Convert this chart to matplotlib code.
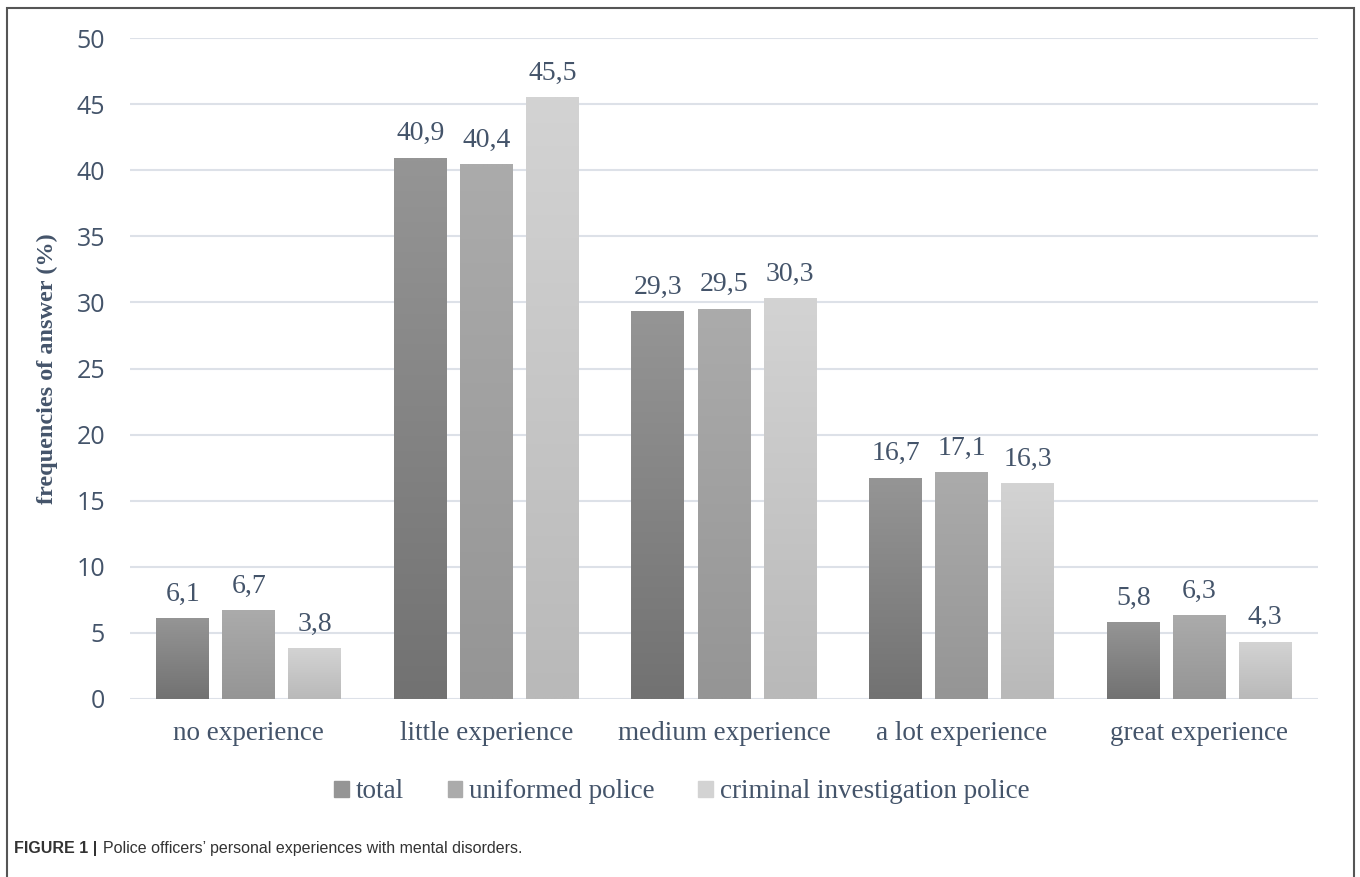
import matplotlib.pyplot as plt
import matplotlib.patches as mpatches
import numpy as np

categories = ['no experience', 'little experience', 'medium experience',
              'a lot experience', 'great experience']
series = ['total', 'uniformed police', 'criminal investigation police']
total = [6.1, 40.9, 29.3, 16.7, 5.8]
uniformed = [6.7, 40.4, 29.5, 17.1, 6.3]
criminal = [3.8, 45.5, 30.3, 16.3, 4.3]
values = [total, uniformed, criminal]

# (top colour, bottom colour) for each series gradient
grads = [('#959595', '#727272'), ('#ababab', '#959595'), ('#d3d3d3', '#b9b9b9')]
txt = '#44546a'

fig = plt.figure(figsize=(13.6, 8.77), dpi=100)
ax = fig.add_axes([130/1360, 1 - 699/877, 1188/1360, 661/877])

x = np.arange(len(categories))
w = 0.223
step = 0.278

for i, (vals, (c_top, c_bot)) in enumerate(zip(values, grads)):
    top = np.array(plt.matplotlib.colors.to_rgb(c_top))
    bot = np.array(plt.matplotlib.colors.to_rgb(c_bot))
    g = np.linspace(0, 1, 100)[:, None]
    img = (top * (1 - g) + bot * g)[:, None, :]
    for j, v in enumerate(vals):
        xc = x[j] + (i - 1) * step
        ax.bar(xc, v, w, color=c_bot, zorder=2)
        ax.imshow(img, extent=[xc - w/2, xc + w/2, 0, v], aspect='auto', zorder=3,
                  interpolation='bilinear')
        ax.text(xc, v + 0.9, f'{v:.1f}'.replace('.', ','), ha='center', va='bottom',
                family='Liberation Serif', fontsize=20, color=txt, zorder=4)

ax.set_xlim(-0.5, len(categories) - 0.5)
ax.set_ylim(0, 50)
ax.set_yticks(range(0, 51, 5))
ax.set_yticklabels([str(t) for t in range(0, 51, 5)], family='Open Sans',
                   fontsize=18, color=txt)
ax.set_xticks(x)
ax.set_xticklabels(categories, family='Liberation Serif', fontsize=19.5, color=txt)
ax.tick_params(axis='y', length=0, pad=18)
ax.tick_params(axis='x', length=0, pad=16)
ax.grid(axis='y', color='#dde1e8', linewidth=1.5, zorder=0)
ax.set_axisbelow(True)
for s in ax.spines.values():
    s.set_visible(False)

ax.set_ylabel('frequencies of answer (%)', family='Liberation Serif', fontsize=17.5,
              fontweight='bold', color=txt)
ax.yaxis.set_label_coords(-72/1188, 0.5)

handles = [mpatches.Patch(color=g[0], label=s) for s, g in zip(series, grads)]
leg = fig.legend(handles=handles, loc='center', bbox_to_anchor=(682/1360, 1 - 792/877),
                 ncol=3, frameon=False, handlelength=0.55, handleheight=0.55,
                 handletextpad=0.25, columnspacing=1.6,
                 prop={'family': 'Liberation Serif', 'size': 19.5})
for t in leg.get_texts():
    t.set_color(txt)

# outer frame
fig.patches.append(mpatches.Rectangle((7/1360, -0.05), 1347/1360, 1.05 - 8/877,
                                      transform=fig.transFigure, fill=False,
                                      edgecolor='#555555', linewidth=1.5))

fig.text(14/1360, 1 - 848/877, 'FIGURE 1 |', family='Liberation Sans', fontweight='bold',
         fontsize=11.5, color='#333333', va='center')
fig.text(103/1360, 1 - 848/877, 'Police officers\u2019 personal experiences with mental disorders.',
         family='Liberation Sans', fontsize=11.5, color='#333333', va='center')

fig.savefig('out.png', dpi=100)
